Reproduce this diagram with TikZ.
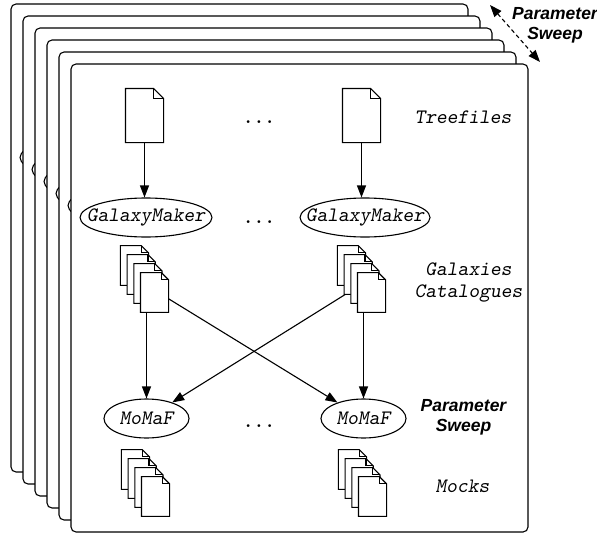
\documentclass[tikz,border=0pt]{standalone}
\usepackage{fontspec}
\newfontfamily\headfont{Liberation Sans}
\usetikzlibrary{arrows.meta}
\usetikzlibrary{shapes.geometric}

\newcommand{\docfile}[3]{\node[inner sep=0, minimum width=37*#3, minimum height=53*#3] (#1) at (#2) {};
\draw[fill=white] (#1.north west) -- ([xshift=-10*#3]#1.north east) -- ([yshift=-10*#3]#1.north east) -- (#1.south east) -- (#1.south west) -- cycle;
\draw ([xshift=-10*#3]#1.north east) |- ([yshift=-10*#3]#1.north east);}

\begin{document}
\begin{tikzpicture}[x=1pt, y=-1pt, line width=1.1pt, >={Triangle[length=12pt,width=9pt]},
  proc/.style={draw, ellipse, inner sep=0, minimum height=39, fill=white, font=\ttfamily\slshape\fontsize{20.5}{22}\selectfont},
  lbl/.style={align=center, font=\ttfamily\slshape\fontsize{20.5}{22}\selectfont},
  sweep/.style={align=center, font=\headfont\bfseries\itshape\fontsize{17.5}{20}\selectfont}]
\useasboundingbox (0,0) rectangle (597,538);
\foreach \i in {0,...,4} {\draw[fill=white, rounded corners=5pt] (11+12*\i,4+12*\i) rectangle ++(457,468);
  \draw (86+12*\i,157.5+12*\i) ellipse (66 and 19.5);}
\draw[fill=white, rounded corners=5pt] (71,64) rectangle ++(457,468);

\docfile{tf1}{144.5,115.5}{1}
\docfile{tf2}{361.5,115.5}{1}
\node[proc, minimum width=132] (gm1) at (146,217.5) {\makebox[0pt]{GalaxyMaker}};
\node[proc, minimum width=130] (gm2) at (365,217.5) {\makebox[0pt]{GalaxyMaker}};
\node[proc, minimum width=85] (mf1) at (146.5,418.5) {\makebox[0pt]{MoMaF}};
\node[proc, minimum width=85] (mf2) at (363.5,418.5) {\makebox[0pt]{MoMaF}};
\draw[->] (tf1) -- (tf1 |- gm1.north);
\draw[->] (tf2) -- (tf2 |- gm2.north);

\coordinate (gc1) at (144.5,284);
\coordinate (gc2) at (362,284);
\draw[->] (gc1) -- (mf2);
\draw[->] (gc2) -- (mf1);
\foreach \i in {0,...,3} {\docfile{gca\i}{134.5+6.7*\i,265.5+9*\i}{.73} \docfile{gcb\i}{351.5+6.7*\i,265.5+9*\i}{.73}}
\draw[->] (mf1 |- gca3.south) -- (mf1);
\draw[->] (mf2 |- gcb3.south) -- (mf2);
\foreach \i in {0,...,3} {\docfile{mka\i}{135.5+6.7*\i,469.5+9*\i}{.73} \docfile{mkb\i}{352.5+6.7*\i,469.5+9*\i}{.73}}

\foreach \y [count=\n] in {123,223,427} \node[lbl, anchor=base, font=\ttfamily\bfseries\fontsize{20.5}{22}\selectfont] (dots\n) at (259,\y) {...};
\node[lbl] (treef) at (463,117.5) {Treefiles};
\node[lbl] (gcat) at (468.5,282) {Galaxies\\Catalogues};
\node[sweep] (sweepb) at (463.5,417.5) {Parameter\\Sweep};
\node[lbl] (mocks) at (462.5,486) {Mocks};

\coordinate (ps1) at (490,5);
\coordinate (ps2) at (540,62);
\draw[<->, dash pattern=on 4pt off 3pt] (ps1) -- (ps2);
\node[sweep] (sweept) at (555,25.5) {Parameter\\Sweep};
\end{tikzpicture}
\end{document}
